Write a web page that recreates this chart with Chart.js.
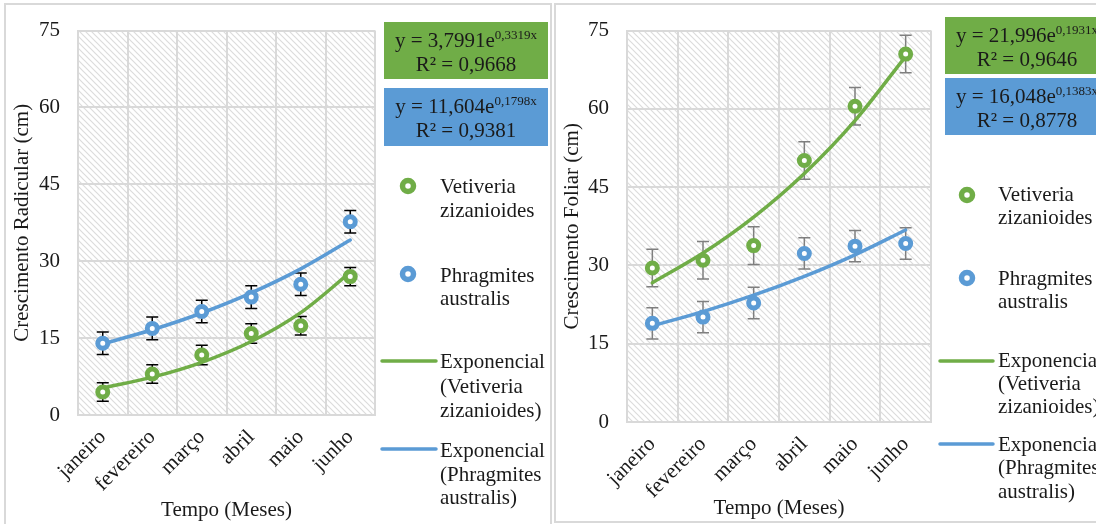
<!DOCTYPE html>
<html>
<head>
<meta charset="utf-8">
<script src="https://cdn.jsdelivr.net/npm/chart.js@4.4.1/dist/chart.umd.min.js"></script>
<style>
  html, body { margin: 0; padding: 0; background: #fff; }
  body { width: 1096px; height: 524px; position: relative; overflow: hidden; }
  .panel { position: absolute; top: 0; }
  #rootWrap { left: 0; }
  #leafWrap { left: 553px; }
</style>
</head>
<body>
<div class="panel" id="rootWrap"><canvas id="rootChart" width="553" height="524"></canvas></div>
<div class="panel" id="leafWrap"><canvas id="leafChart" width="543" height="524"></canvas></div>
<script>
'use strict';

// ---- data ----
const months = ['janeiro', 'fevereiro', 'março', 'abril', 'maio', 'junho'];
const yTicks = [0, 15, 30, 45, 60, 75];

// crescimento radicular (cm)
const rootVetiveria = [4.5, 8.0, 11.7, 15.9, 17.4, 27.0];
const rootVetiveriaErr = [1.8, 1.8, 1.9, 1.9, 1.8, 1.8];
const rootPhragmites = [14.0, 16.9, 20.2, 23.0, 25.5, 37.7];
const rootPhragmitesErr = [2.2, 2.2, 2.2, 2.2, 2.2, 2.2];
const rootVetiveriaTrend = [5.29, 7.38, 10.28, 14.33, 19.97, 27.83];
const rootPhragmitesTrend = [13.89, 16.63, 19.90, 23.82, 28.51, 34.13];

// crescimento foliar (cm)
const leafVetiveria = [29.5, 31.0, 33.8, 50.1, 60.5, 70.5];
const leafVetiveriaErr = [3.6, 3.6, 3.6, 3.6, 3.6, 3.6];
const leafPhragmites = [18.9, 20.1, 22.8, 32.3, 33.7, 34.2];
const leafPhragmitesErr = [3.0, 3.0, 3.0, 3.0, 3.0, 3.0];
const leafVetiveriaTrend = [26.68, 32.37, 39.26, 47.62, 57.76, 70.07];
const leafPhragmitesTrend = [18.43, 21.16, 24.30, 27.91, 32.04, 36.79];

// trendline equations
const rootEquations = [['y = 3,7991e', '0,3319x', 'R² = 0,9668'], ['y = 11,604e', '0,1798x', 'R² = 0,9381']];
const leafEquations = [['y = 21,996e', '0,1931x', 'R² = 0,9646'], ['y = 16,048e', '0,1383x', 'R² = 0,8778']];

const seriesNames = ['Vetiveria zizanioides', 'Phragmites australis'];

const GREEN = '#70AD47';
const BLUE = '#5B9BD5';
const GRID = '#d9d9d9';
const TEXT = '#1a1a1a';
const FONT = "'Liberation Serif', 'Times New Roman', serif";
const FS = 21;

// hatch pattern for the plot area
function makeHatch() {
  const s = 6;
  const c = document.createElement('canvas');
  c.width = s; c.height = s;
  const g = c.getContext('2d');
  g.fillStyle = '#fff';
  g.fillRect(0, 0, s, s);
  g.strokeStyle = '#dcdcdc';
  g.lineWidth = 1.2;
  for (let k = -1; k <= 1; k++) {
    g.beginPath();
    g.moveTo(k * s - 1, -1);
    g.lineTo(k * s + s + 1, s + 1);
    g.stroke();
  }
  return g.createPattern(c, 'repeat');
}

function drawEquation(ctx, box, eq) {
  ctx.fillStyle = box.color;
  ctx.fillRect(box.x, box.y, box.w, box.h);
  ctx.fillStyle = TEXT;
  ctx.textBaseline = 'alphabetic';
  ctx.textAlign = 'left';
  ctx.font = FS + 'px ' + FONT;
  const wBase = ctx.measureText(eq[0]).width;
  ctx.font = '13px ' + FONT;
  const wSup = ctx.measureText(eq[1]).width;
  const x0 = box.cx - (wBase + wSup) / 2;
  ctx.font = FS + 'px ' + FONT;
  ctx.fillText(eq[0], x0, box.b1);
  ctx.font = '13px ' + FONT;
  ctx.fillText(eq[1], x0 + wBase, box.b1 - 8);
  ctx.font = FS + 'px ' + FONT;
  ctx.textAlign = 'center';
  ctx.fillText(eq[2], box.cx, box.b2);
}

function drawMarker(ctx, x, y, color) {
  ctx.beginPath();
  ctx.arc(x, y, 5.5, 0, Math.PI * 2);
  ctx.fillStyle = '#fff';
  ctx.fill();
  ctx.lineWidth = 5.5;
  ctx.strokeStyle = color;
  ctx.stroke();
}

const panelPlugin = {
  id: 'panel',
  beforeDraw(chart, args, opts) {
    const ctx = chart.ctx;
    const a = chart.chartArea;
    ctx.save();
    ctx.fillStyle = '#fff';
    ctx.fillRect(0, 0, chart.width, chart.height);
    ctx.strokeStyle = GRID;
    ctx.lineWidth = 2;
    ctx.strokeRect(opts.border[0], opts.border[1], opts.border[2], opts.border[3]);
    ctx.fillStyle = makeHatch();
    ctx.fillRect(a.left, a.top, a.right - a.left, a.bottom - a.top);
    ctx.restore();
  },
  beforeDatasetsDraw(chart, args, opts) {
    // error bars
    const ctx = chart.ctx;
    const xs = chart.scales.x;
    const ys = chart.scales.y;
    ctx.save();
    ctx.strokeStyle = opts.errColor;
    ctx.lineWidth = 1.5;
    opts.errors.forEach(function(e) {
      e.values.forEach(function(v, i) {
        const x = xs.getPixelForValue(i);
        const yt = ys.getPixelForValue(v + e.err[i]);
        const yb = ys.getPixelForValue(v - e.err[i]);
        ctx.beginPath();
        ctx.moveTo(x, yt); ctx.lineTo(x, yb);
        ctx.moveTo(x - 6, yt); ctx.lineTo(x + 6, yt);
        ctx.moveTo(x - 6, yb); ctx.lineTo(x + 6, yb);
        ctx.stroke();
      });
    });
    ctx.restore();
  },
  afterDraw(chart, args, opts) {
    const ctx = chart.ctx;
    const L = opts.legend;
    ctx.save();
    opts.equations.forEach(function(eq, i) {
      drawEquation(ctx, L.boxes[i], eq);
    });
    const colors = [GREEN, BLUE];
    function label(t, x, y) {
      ctx.font = FS + 'px ' + FONT;
      ctx.fillStyle = TEXT;
      ctx.textAlign = 'left';
      ctx.textBaseline = 'alphabetic';
      ctx.fillText(t, x, y);
    }
    // marker entries
    L.markers.forEach(function(m, i) {
      drawMarker(ctx, L.markerX, m.y, colors[i]);
      seriesNames[i].split(' ').forEach(function(t, j) {
        label(t, L.textX, m.lines[j]);
      });
    });
    // trendline entries
    L.trends.forEach(function(t, i) {
      ctx.strokeStyle = colors[i];
      ctx.lineWidth = 3.5;
      ctx.lineCap = 'round';
      ctx.beginPath();
      ctx.moveTo(L.lineX[0], t.y);
      ctx.lineTo(L.lineX[1], t.y);
      ctx.stroke();
      const parts = seriesNames[i].split(' ');
      ['Exponencial', '(' + parts[0], parts[1] + ')'].forEach(function(r, j) {
        label(r, L.textX, t.lines[j]);
      });
    });
    ctx.restore();
  }
};

function pointSet(label, data, color) {
  return {
    label: label,
    data: data,
    showLine: false,
    pointRadius: 5,
    pointHoverRadius: 5,
    pointBorderWidth: 5,
    pointBackgroundColor: '#fff',
    pointBorderColor: color,
    order: 0
  };
}

function trendSet(label, data, color) {
  return {
    label: label,
    data: data,
    borderColor: color,
    borderWidth: 3.5,
    pointRadius: 0,
    cubicInterpolationMode: 'monotone',
    borderCapStyle: 'round',
    fill: false,
    order: 1
  };
}

function createChart(el, cfg) {
  return new Chart(el, {
    type: 'line',
    data: {
      labels: months,
      datasets: [
        pointSet(seriesNames[0], cfg.vet, GREEN),
        pointSet(seriesNames[1], cfg.phr, BLUE),
        trendSet('Exponencial (' + seriesNames[0] + ')', cfg.vetTrend, GREEN),
        trendSet('Exponencial (' + seriesNames[1] + ')', cfg.phrTrend, BLUE)
      ]
    },
    options: {
      responsive: false,
      animation: false,
      events: [],
      layout: { padding: cfg.padding },
      scales: {
        x: {
          offset: true,
          grid: { offset: true, color: GRID, lineWidth: 2, drawTicks: false },
          border: { color: GRID, width: 2 },
          ticks: {
            color: TEXT,
            font: { family: FONT, size: FS },
            minRotation: 45,
            maxRotation: 45,
            padding: 10
          },
          title: {
            display: true,
            text: 'Tempo (Meses)',
            color: TEXT,
            font: { family: FONT, size: FS },
            padding: { top: 0, bottom: cfg.xTitlePad }
          },
          afterFit: function(s) { s.height = cfg.xHeight; }
        },
        y: {
          min: 0,
          max: 75,
          grid: { color: GRID, lineWidth: 2, drawTicks: false },
          border: { color: GRID, width: 2 },
          ticks: {
            color: TEXT,
            font: { family: FONT, size: FS },
            padding: 18
          },
          afterBuildTicks: function(s) { s.ticks = yTicks.map(function(v) { return { value: v }; }); },
          title: {
            display: true,
            text: cfg.yTitle,
            color: TEXT,
            font: { family: FONT, size: FS },
            padding: { top: 2, bottom: 2 }
          },
          afterFit: function(s) { s.width = cfg.yWidth; }
        }
      },
      plugins: {
        legend: { display: false },
        tooltip: { enabled: false },
        panel: cfg.panel
      }
    },
    plugins: [panelPlugin]
  });
}

createChart(document.getElementById('rootChart'), {
  vet: rootVetiveria,
  phr: rootPhragmites,
  vetTrend: rootVetiveriaTrend,
  phrTrend: rootPhragmitesTrend,
  yTitle: 'Crescimento Radicular (cm)',
  padding: { left: 8, top: 27, right: 178, bottom: 0 },
  yWidth: 70,
  xHeight: 109,
  xTitlePad: 1,
  panel: {
    border: [5, 4, 546, 540],
    errColor: '#000',
    errors: [
      { values: rootVetiveria, err: rootVetiveriaErr },
      { values: rootPhragmites, err: rootPhragmitesErr }
    ],
    equations: rootEquations,
    legend: {
      boxes: [
        { color: GREEN, x: 384, y: 22, w: 164, h: 57, cx: 466, b1: 47, b2: 71 },
        { color: BLUE, x: 384, y: 88, w: 164, h: 58, cx: 466, b1: 113, b2: 137 }
      ],
      markerX: 408,
      textX: 440,
      markers: [{ y: 186, lines: [193, 217] }, { y: 274, lines: [282, 305] }],
      lineX: [382, 436],
      trends: [{ y: 361, lines: [368, 393, 417] }, { y: 449, lines: [457, 481, 504] }]
    }
  }
});

createChart(document.getElementById('leafChart'), {
  vet: leafVetiveria,
  phr: leafPhragmites,
  vetTrend: leafVetiveriaTrend,
  phrTrend: leafPhragmitesTrend,
  yTitle: 'Crescimento Foliar (cm)',
  padding: { left: 5, top: 19, right: 165, bottom: 0 },
  yWidth: 69,
  xHeight: 102,
  xTitlePad: 3,
  panel: {
    border: [2, 4, 560, 518],
    errColor: '#7f7f7f',
    errors: [
      { values: leafVetiveria, err: leafVetiveriaErr },
      { values: leafPhragmites, err: leafPhragmitesErr }
    ],
    equations: leafEquations,
    legend: {
      boxes: [
        { color: GREEN, x: 392, y: 17, w: 170, h: 57, cx: 474, b1: 42, b2: 66 },
        { color: BLUE, x: 392, y: 78, w: 170, h: 57, cx: 474, b1: 103, b2: 127 }
      ],
      markerX: 414,
      textX: 445,
      markers: [{ y: 195, lines: [201, 224] }, { y: 278, lines: [285, 308] }],
      lineX: [387, 440],
      trends: [{ y: 361, lines: [367, 390, 413] }, { y: 444, lines: [451, 474, 498] }]
    }
  }
});
</script>
</body>
</html>
